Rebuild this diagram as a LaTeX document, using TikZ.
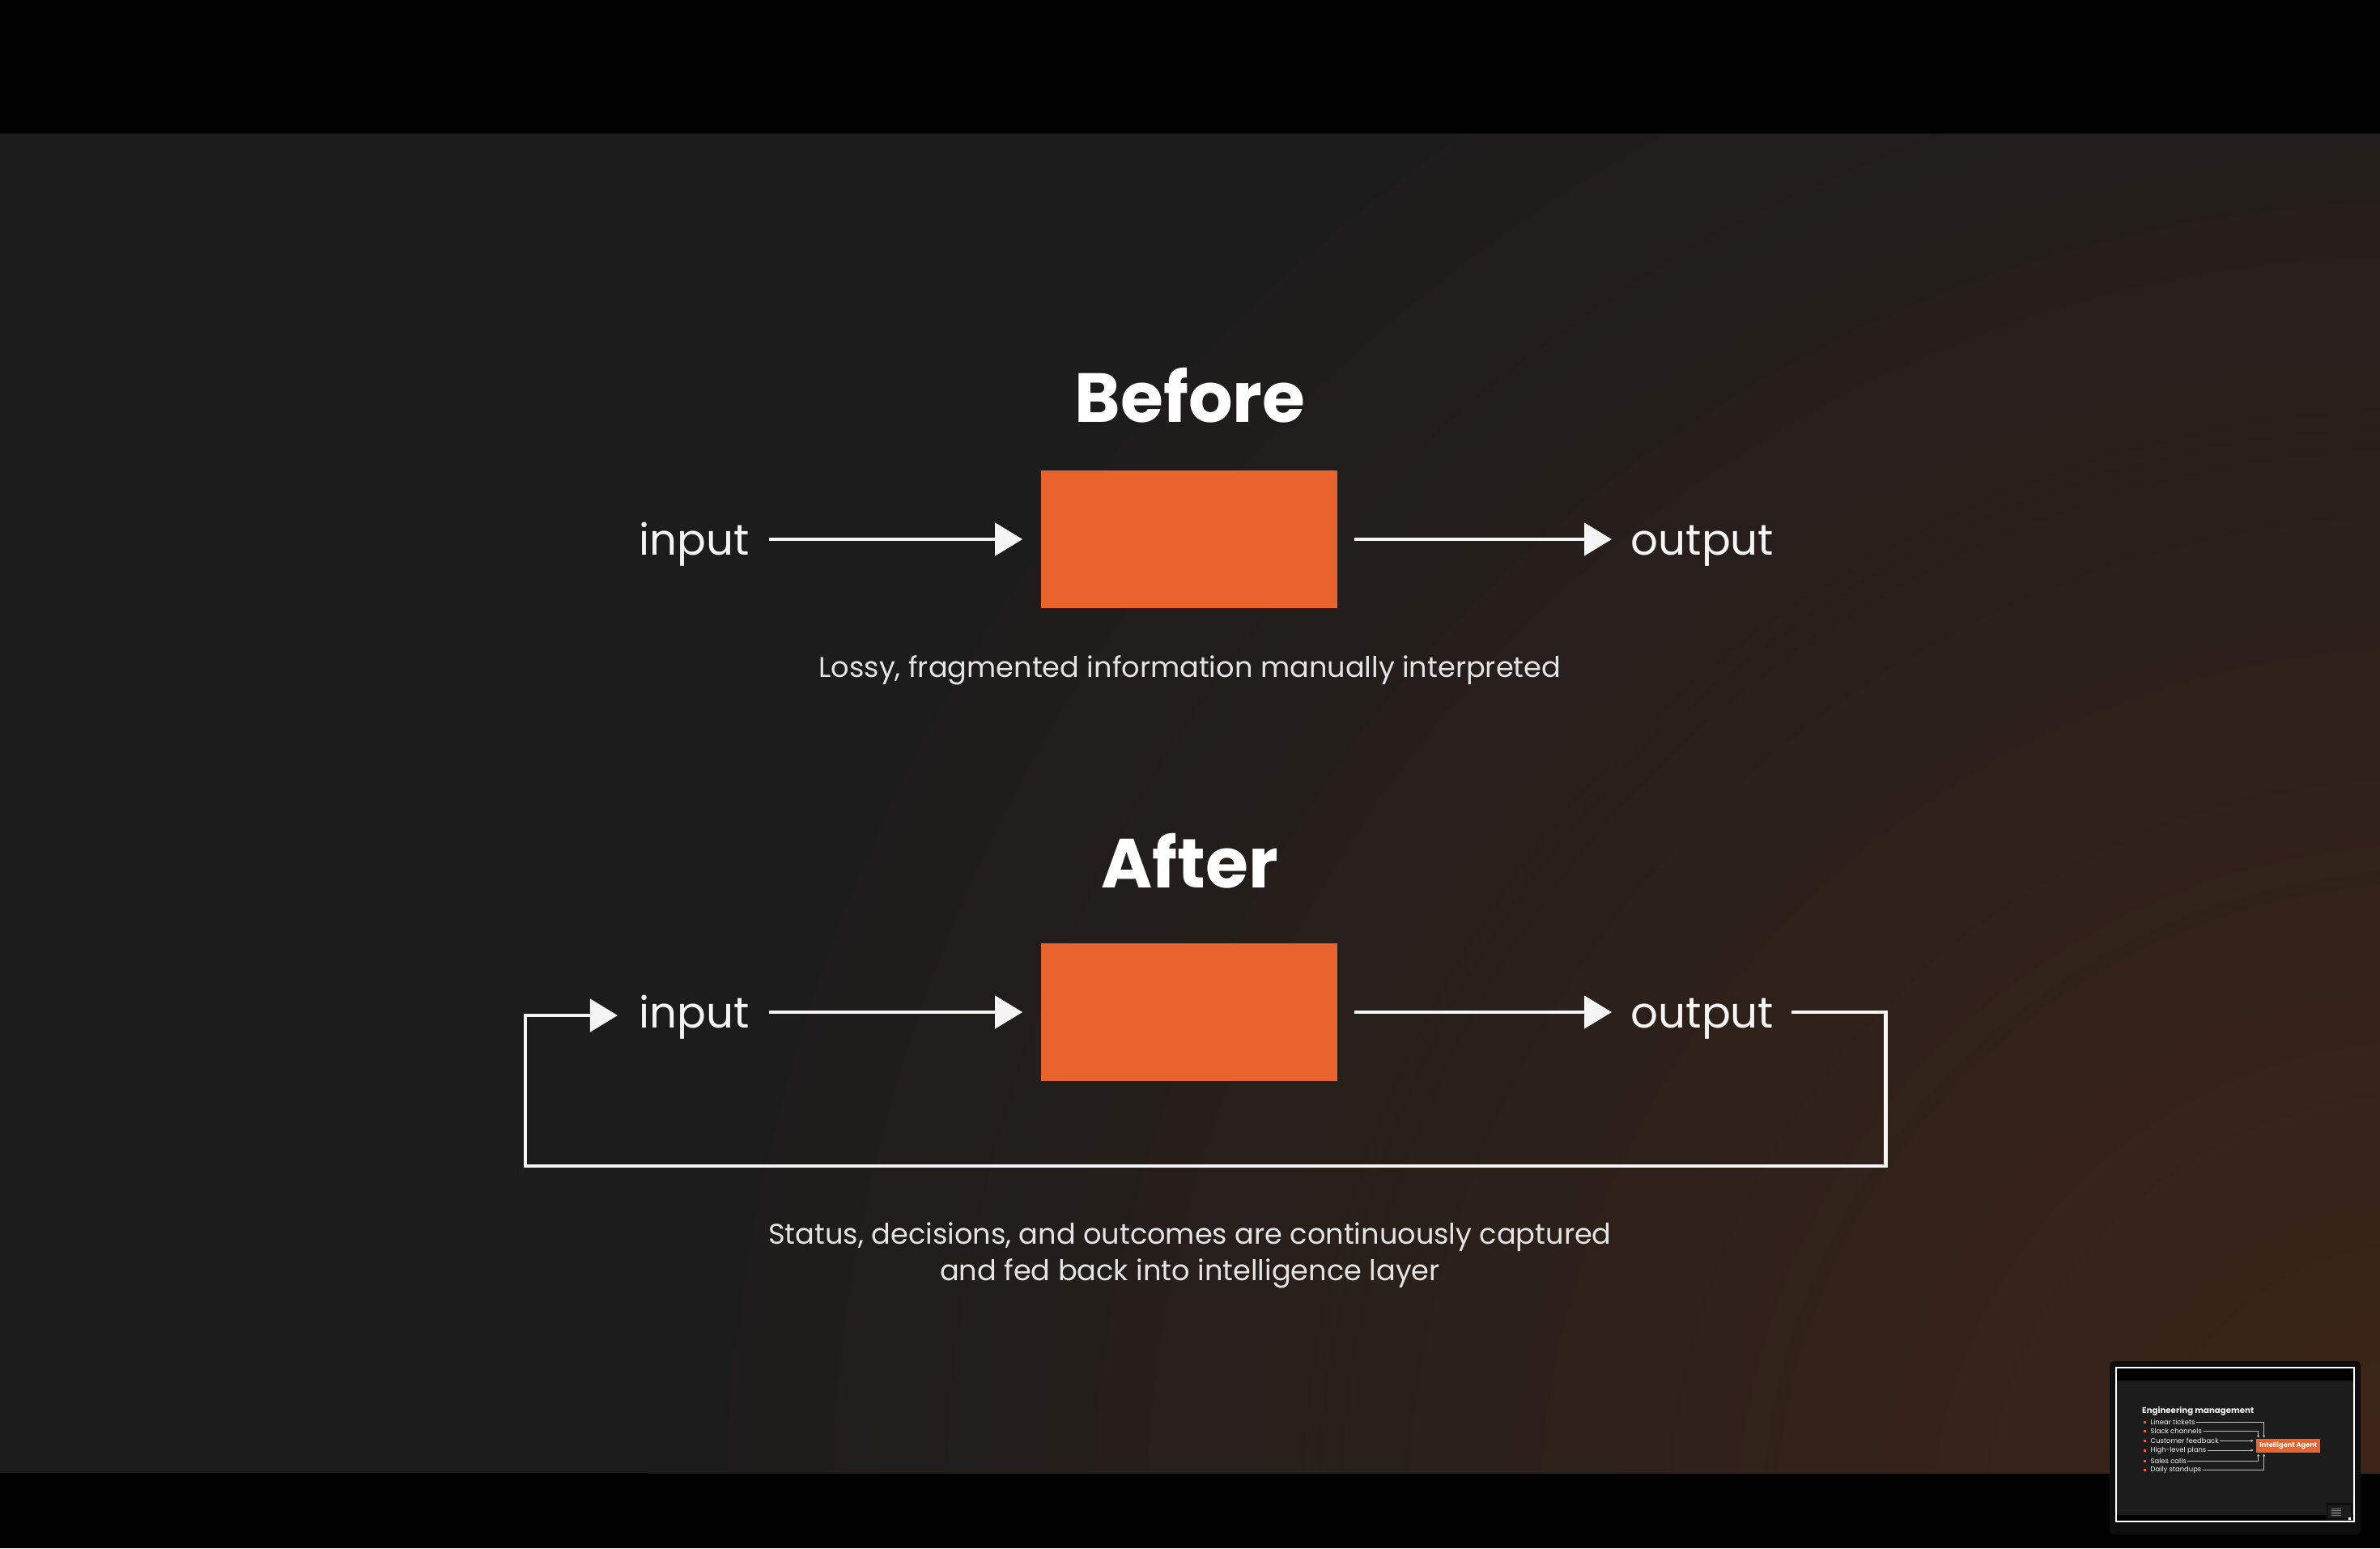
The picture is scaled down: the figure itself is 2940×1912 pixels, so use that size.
\documentclass[tikz,border=0pt]{standalone}
\usepackage{fontspec}
\setmainfont{Poppins}
\usetikzlibrary{arrows.meta}
\definecolor{bg}{HTML}{1C1C1C}
\definecolor{boxorange}{HTML}{E9632D}
\definecolor{txt}{HTML}{F5F5F5}
\definecolor{cap}{HTML}{E4E4E4}
\definecolor{glow}{HTML}{3E2518}
\definecolor{framecol}{HTML}{0E0E0E}
\definecolor{thinline}{HTML}{BDBDBD}
\begin{document}
\begin{tikzpicture}[x=0.01cm,y=-0.01cm,
  flowbox/.style={fill=boxorange, minimum width=3.66cm, minimum height=1.69cm, inner sep=0pt},
  title/.style={text=white, font=\bfseries\fontsize{24.4}{29}\selectfont, inner sep=0pt},
  io/.style={text=txt, font=\fontsize{15.1}{18}\selectfont, inner sep=0pt},
  caption/.style={text=cap, font=\fontsize{10}{12.8}\selectfont, align=center, inner sep=0pt},
  flow/.style={draw=txt, line width=1.4pt, -{Triangle[length=0.34cm,width=0.40cm]}},
  tthead/.style={text=txt, font=\bfseries\fontsize{2.9}{3.4}\selectfont, inner sep=0pt, anchor=base west},
  ttitem/.style={text=txt, font=\fontsize{2.4}{2.9}\selectfont, inner sep=0pt, anchor=west},
  ttbullet/.style={fill=boxorange, minimum size=0.03cm, inner sep=0pt},
  ttagent/.style={fill=boxorange, text=white, font=\bfseries\fontsize{2.35}{3}\selectfont, minimum width=0.79cm, minimum height=0.165cm, inner sep=0pt},
  ttarrow/.style={draw=thinline, line width=0.25pt, -{Triangle[length=0.03cm,width=0.03cm]}},
]
\useasboundingbox (0,0) rectangle (2940,1912);
% background
\fill[black] (0,0) rectangle (2940,1912);
\begin{scope}
  \clip (0,165) rectangle (2940,1819);
  \fill[bg] (0,165) rectangle (2940,1819);
  \shade[inner color=glow, outer color=bg] (3000,1900) circle (22cm);
\end{scope}

% ---------- Before ----------
\node[title] (t1) at (1470,488) {Before};
\node[flowbox] (b1) at (1469,666) {};
\node[io, anchor=base west] (in1) at (789,685) {input};
\node[io, anchor=base west] (out1) at (2014,685) {output};
\draw[flow, shorten <=0.23cm, shorten >=0.22cm] (in1.east |- b1) -- (b1.west);
\draw[flow, shorten <=0.20cm, shorten >=0.23cm] (b1.east) -- (out1.west |- b1);
\node[caption] (c1) at (1470,828) {Lossy, fragmented information manually interpreted};

% ---------- After ----------
\node[title] (t2) at (1470,1063) {After};
\node[flowbox] (b2) at (1469,1250) {};
\node[io, anchor=base west] (in2) at (789,1269) {input};
\node[io, anchor=base west] (out2) at (2014,1269) {output};
\draw[flow, shorten <=0.23cm, shorten >=0.22cm] (in2.east |- b2) -- (b2.west);
\draw[flow, shorten <=0.20cm, shorten >=0.23cm] (b2.east) -- (out2.west |- b2);
\coordinate (lr) at (2329,1440);
\coordinate (ll) at (649,1440);
\coordinate (lup) at (649,1254);
\draw[flow, line join=miter, shorten <=0.21cm, shorten >=0.26cm]
  (out2.east |- b2) -| (lr) -- (ll) -- (lup) -- (in2.west |- lup);
\node[caption] (c2) at (1470,1550) {Status, decisions, and outcomes are continuously captured\\and fed back into intelligence layer};

% ---------- thumbnail ----------
\fill[framecol, rounded corners=0.05cm] (2606,1681) rectangle (2916,1895);
\fill[black] (2614,1689) rectangle (2908,1879);
\fill[bg] (2614,1705) rectangle (2908,1871);
\draw[white, line width=0.35pt] (2614,1689) rectangle (2908,1879);

\node[tthead] (eng) at (2645.5,1745.5) {Engineering management};
\node[ttagent] (ag) at (2826.8,1785.5) {Intelligent Agent};
\foreach \name/\yy/\label in {i1/1756/Linear tickets, i2/1767.7/Slack channels, i3/1779.3/Customer feedback, i4/1791/High-level plans, i5/1804/Sales calls, i6/1815.7/Daily standups} {
  \node[ttbullet] (b\name) at (2649.5,\yy) {};
  \node[ttitem] (\name) at (2656,\yy) {\label};
}
\draw[ttarrow, shorten <=0.01cm, shorten >=0.01cm] (i1.east) -| ([xshift=0.1cm]ag.north west);
\draw[ttarrow, shorten <=0.01cm, shorten >=0.01cm] (i2.east) -| ([xshift=0.03cm]ag.north west);
\draw[ttarrow, shorten <=0.01cm, shorten >=0.03cm] (i3.east) -- (i3.east -| ag.west);
\draw[ttarrow, shorten <=0.01cm, shorten >=0.03cm] (i4.east) -- (i4.east -| ag.west);
\draw[ttarrow, shorten <=0.01cm, shorten >=0.01cm] (i5.east) -| ([xshift=0.03cm]ag.south west);
\draw[ttarrow, shorten <=0.01cm, shorten >=0.01cm] (i6.east) -| ([xshift=0.1cm]ag.south west);

% nested mini thumbnail
\fill[framecol] (2874,1856) rectangle (2906,1878);
\fill[bg] (2876,1859) rectangle (2904,1875);
\foreach \yy in {1863,1865,1867,1869,1871} {
  \draw[thinline!60!bg, line width=0.2pt] (2880,\yy) -- (2892,\yy);
}
\fill[white] (2901,1874) rectangle (2904,1876.5);
\end{tikzpicture}
\end{document}
